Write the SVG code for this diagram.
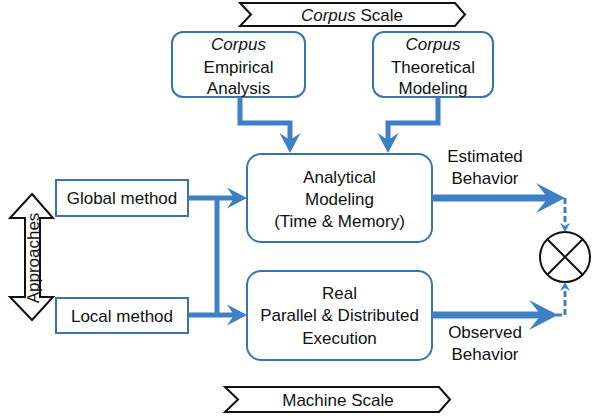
<svg xmlns="http://www.w3.org/2000/svg" width="597" height="418" viewBox="0 0 597 418">
<style>
text{font-family:"Liberation Sans",Arial,sans-serif;font-size:17px;fill:#111;text-anchor:middle}
.it{font-style:italic}
.box{fill:#fff;stroke:#3a73b4;stroke-width:2}
.ln{fill:none;stroke:#3e7fc6;stroke-width:5;stroke-linejoin:miter}
.thick{stroke-width:7}
.dash{fill:none;stroke:#3e7fc6;stroke-width:3;stroke-dasharray:6 3}
.ah{fill:#3e7fc6}
.blk{fill:#fff;stroke:#111;stroke-width:2}
</style>
<defs>
<path id="ah" d="M0,0 L-20,-10.5 L-13,0 L-20,10.5 Z"/>
<path id="ahBig" d="M0,0 L-29,-15 L-17,0 L-29,15 Z"/>
<path id="ahSmall" d="M0,0 L-9,-5 L-6,0 L-9,5 Z"/>
</defs>

<g id="corpus-scale">
<path class="blk" d="M240,3 H455 L465,14.5 L455,26 H240 L251,14.5 Z"/>
<text x="352" y="20.5"><tspan class="it">Corpus</tspan> Scale</text>
</g>

<g id="machine-scale">
<path class="blk" d="M225,387 H439 L450,399.5 L439,412 H225 L238,399.5 Z"/>
<text x="338" y="405.5">Machine Scale</text>
</g>

<g id="empirical">
<rect class="box" x="172" y="32" width="133" height="65" rx="11"/>
<text x="238.5" y="50" class="it" font-size="16">Corpus</text>
<text x="238.5" y="72.5">Empirical</text>
<text x="238.5" y="94">Analysis</text>
</g>

<g id="theoretical">
<rect class="box" x="373" y="32" width="120" height="65" rx="11"/>
<text x="433" y="50" class="it" font-size="16">Corpus</text>
<text x="433" y="72.5">Theoretical</text>
<text x="433" y="94">Modeling</text>
</g>

<g id="analytical">
<rect class="box" x="247" y="154" width="185" height="88" rx="14"/>
<text x="339.5" y="182.5">Analytical</text>
<text x="339.5" y="204.5">Modeling</text>
<text x="339.5" y="226.5">(Time &amp; Memory)</text>
</g>

<g id="real">
<rect class="box" x="247" y="271" width="185" height="89" rx="14"/>
<text x="339.5" y="298.5">Real</text>
<text x="339.5" y="321">Parallel &amp; Distributed</text>
<text x="339.5" y="343.5">Execution</text>
</g>

<g id="global">
<rect class="box" x="56" y="180" width="132" height="36"/>
<text x="122" y="204">Global method</text>
</g>

<g id="local">
<rect class="box" x="56" y="298" width="132" height="35"/>
<text x="122" y="321.5">Local method</text>
</g>

<g id="approaches">
<path class="blk" d="M32,194 L53,218 H40 V297 H53 L32,320 L10,297 H25 V218 H10 Z"/>
<text x="0" y="0" font-size="16" transform="translate(38.5,258) rotate(-90)">Approaches</text>
</g>

<g id="compare">
<circle class="blk" cx="565" cy="257" r="25"/>
<path d="M547.3,239.3 L582.7,274.7 M582.7,239.3 L547.3,274.7" stroke="#111" stroke-width="2"/>
</g>

<g id="labels">
<text x="485" y="161.5">Estimated</text>
<text x="485" y="183.5">Behavior</text>
<text x="485" y="337.5">Observed</text>
<text x="485" y="359.5">Behavior</text>
</g>

<g id="connectors">
<path class="ln" d="M188,198 H236"/>
<path class="ln" d="M188,315 H236"/>
<path class="ln" d="M217,198 V315"/>
<use href="#ah" class="ah" transform="translate(247,198)"/>
<use href="#ah" class="ah" transform="translate(247,315)"/>
<path class="ln" d="M240,97 V123 H290 V141"/>
<use href="#ah" class="ah" transform="translate(290,153) rotate(90)"/>
<path class="ln" d="M438,97 V123 H388 V141"/>
<use href="#ah" class="ah" transform="translate(388,153) rotate(90)"/>
<path class="ln thick" d="M432,198 H550"/>
<use href="#ahBig" class="ah" transform="translate(565,198)"/>
<path class="ln thick" d="M432,315 H543"/>
<use href="#ahBig" class="ah" transform="translate(558,315)"/>
<path class="dash" d="M565,198 V225"/>
<use href="#ahSmall" class="ah" transform="translate(565,232) rotate(90)"/>
<path class="dash" d="M556,315 H565 V289"/>
<use href="#ahSmall" class="ah" transform="translate(565,282) rotate(-90)"/>
</g>
</svg>
